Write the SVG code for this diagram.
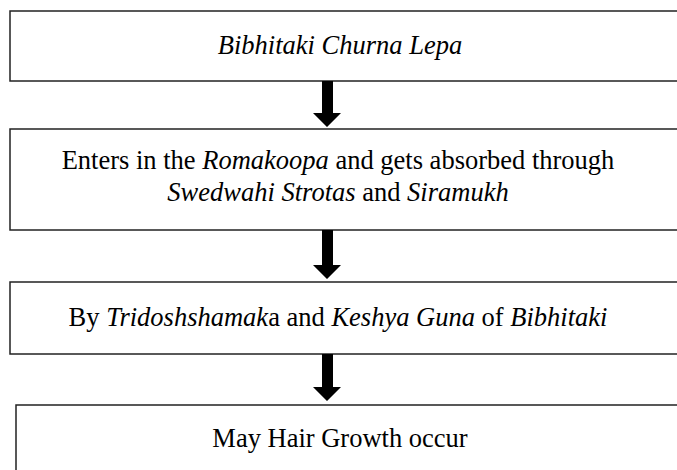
<svg xmlns="http://www.w3.org/2000/svg" width="677" height="470" viewBox="0 0 677 470">
<style>
.box{fill:#fff;stroke:#222;stroke-width:1.5}
.t{font-family:"Liberation Serif","Times New Roman",serif;font-size:26.5px;fill:#000;text-anchor:middle}
.i{font-style:italic}
.arr{fill:#000}
</style>
<rect width="677" height="470" fill="#fff"/>
<g id="n1"><rect class="box" x="10" y="11" width="700" height="70"/>
<text class="t" x="340" y="54"><tspan class="i">Bibhitaki Churna Lepa</tspan></text></g>
<g id="n2"><rect class="box" x="10" y="129" width="700" height="101"/>
<text class="t" x="338" y="169">Enters in the <tspan class="i">Romakoopa</tspan> and gets absorbed through</text>
<text class="t" x="338" y="201"><tspan class="i">Swedwahi Strotas</tspan> and <tspan class="i">Siramukh</tspan></text></g>
<g id="n3"><rect class="box" x="10" y="282" width="700" height="72"/>
<text class="t" x="338" y="326">By <tspan class="i">Tridoshshamak</tspan>a and <tspan class="i">Keshya Guna</tspan> of <tspan class="i">Bibhitaki</tspan></text></g>
<g id="n4"><rect class="box" x="16" y="405" width="700" height="100"/>
<text class="t" x="340" y="447">May Hair Growth occur</text></g>
<g id="connectors">
<path class="arr" d="M322 81H333V113H341L327 127L313 113H322Z"/>
<path class="arr" d="M322 230H333V265H341L327 279L313 265H322Z"/>
<path class="arr" d="M322 354H333V387H341L327 401L313 387H322Z"/>
</g>
</svg>
